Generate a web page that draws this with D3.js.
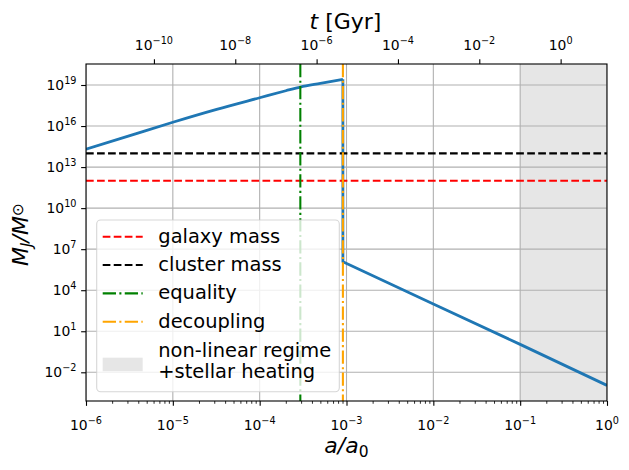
<!DOCTYPE html>
<html><head><meta charset="utf-8">
<script src="https://cdn.jsdelivr.net/npm/d3@7"></script>
<style>body{margin:0;background:#fff}svg{display:block}text{font-family:"DejaVu Sans",sans-serif;fill:#000}</style>
</head><body><svg id="c" width="629" height="470"></svg>
<script>
// ---- data ----
// rising branch (before decoupling)
const aRise  = [1e-6, 3e-6, 1e-5, 3.2e-5, 1e-4, 2e-4, 2.94e-4, 5e-4, 9.09e-4];
const mjRise = [2.0e14, 1.74e15, 1.9e16, 1.66e17, 1.17e18, 3.8e18, 7.1e18, 1.32e19, 2.6e19];
// after decoupling (drop then decline)
const aFall  = [9.09e-4, 9.09e-4, 1e-2, 1e-1, 1];
const mjFall = [2.6e19, 1.2e6, 1.0e3, 1.1e0, 1.1e-3];
const hLineNames  = ["galaxy mass", "cluster mass"];
const hLineValues = [1e12, 1e14];
const vLineNames  = ["equality", "decoupling"];
const vLineValues = [2.94e-4, 9.09e-4];
const spanRange   = [0.1, 1];
const spanName    = ["non-linear regime", "+stellar heating"];
const xTicks   = [1e-6, 1e-5, 1e-4, 1e-3, 1e-2, 1e-1, 1e0];
const xTickExp = ["−6", "−5", "−4", "−3", "−2", "−1", "0"];
const yTicks   = [1e-2, 1e1, 1e4, 1e7, 1e10, 1e13, 1e16, 1e19];
const yTickExp = ["−2", "1", "4", "7", "10", "13", "16", "19"];
const tTicks   = [1e-10, 1e-8, 1e-6, 1e-4, 1e-2, 1e0];
const tTickExp = ["−10", "−8", "−6", "−4", "−2", "0"];

// ---- layout ----
const L = 86, R = 607, T = 64, B = 401;
const svg = d3.select("#c");
const x = d3.scaleLog().domain([1e-6, 1]).range([L, R]);
const y = d3.scaleLog().domain([Math.pow(10, -4.098), Math.pow(10, 20.535)]).range([B, T]);
const tx = d3.scaleLog().domain([Math.pow(10, -11.67), Math.pow(10, 1.14)]).range([L, R]);

svg.append("defs").append("clipPath").attr("id", "clip")
  .append("rect").attr("x", L).attr("y", T).attr("width", R - L).attr("height", B - T);
const plot = svg.append("g").attr("clip-path", "url(#clip)");

// span
plot.append("rect").attr("x", x(spanRange[0])).attr("y", T)
  .attr("width", x(spanRange[1]) - x(spanRange[0])).attr("height", B - T)
  .attr("fill", "gray").attr("fill-opacity", 0.2);

// grid
plot.selectAll(".gx").data(xTicks).join("line")
  .attr("x1", d => x(d)).attr("x2", d => x(d)).attr("y1", T).attr("y2", B)
  .attr("stroke", "#b0b0b0").attr("stroke-width", 1.1);
plot.selectAll(".gy").data(yTicks).join("line")
  .attr("y1", d => y(d)).attr("y2", d => y(d)).attr("x1", L).attr("x2", R)
  .attr("stroke", "#b0b0b0").attr("stroke-width", 1.1);

// main curve
const rise = aRise.map((a, i) => [a, mjRise[i]]);
const fall = aFall.map((a, i) => [a, mjFall[i]]);
plot.append("path").datum(rise)
  .attr("d", d3.line().x(d => x(d[0])).y(d => y(d[1])).curve(d3.curveMonotoneX))
  .attr("fill", "none").attr("stroke", "#1f77b4").attr("stroke-width", 2.78)
  .attr("stroke-linejoin", "round");
plot.append("path").datum(fall)
  .attr("d", d3.line().x(d => x(d[0])).y(d => y(d[1])))
  .attr("fill", "none").attr("stroke", "#1f77b4").attr("stroke-width", 2.78)
  .attr("stroke-linejoin", "round");

// horizontal lines
const hColors = ["red", "black"];
plot.selectAll(".hl").data(hLineValues).join("line")
  .attr("x1", L).attr("x2", R).attr("y1", d => y(d)).attr("y2", d => y(d))
  .attr("stroke", (d, i) => hColors[i]).attr("stroke-width", 2.08)
  .attr("stroke-dasharray", "7.7,3.33");
// vertical lines
const vColors = ["green", "orange"];
plot.selectAll(".vl").data(vLineValues).join("line")
  .attr("x1", d => x(d)).attr("x2", d => x(d)).attr("y1", T).attr("y2", B)
  .attr("stroke", (d, i) => vColors[i]).attr("stroke-width", 2.08)
  .attr("stroke-dasharray", "13.3,3.33,2.08,3.33");

// spines
svg.append("rect").attr("x", L).attr("y", T).attr("width", R - L).attr("height", B - T)
  .attr("fill", "none").attr("stroke", "#000").attr("stroke-width", 1.1);

// axes ticks
function supLabel(g, xx, yy, exp, anchor) {
  const t = g.append("text").attr("x", xx).attr("y", yy).attr("text-anchor", anchor)
    .attr("font-size", "13.9px");
  t.append("tspan").text("10");
  t.append("tspan").attr("dy", -6).attr("font-size", "9.7px").text(exp);
  return t;
}
svg.append("g").attr("transform", `translate(0,${B})`)
  .call(d3.axisBottom(x).tickValues(xTicks).tickSize(4.86).tickFormat(""));
const minors = [];
for (let e = -6; e < 0; e++) for (let k = 2; k <= 9; k++) minors.push(k * Math.pow(10, e));
svg.append("g").attr("transform", `translate(0,${B})`)
  .call(d3.axisBottom(x).tickValues(minors).tickSize(2.78).tickFormat(""))
  .call(g => g.selectAll("line").attr("stroke-width", 0.83));
svg.append("g").attr("transform", `translate(${L},0)`)
  .call(d3.axisLeft(y).tickValues(yTicks).tickSize(4.86).tickFormat(""));
svg.append("g").attr("transform", `translate(0,${T})`)
  .call(d3.axisTop(tx).tickValues(tTicks).tickSize(4.86).tickFormat(""));
svg.selectAll(".domain").remove();
svg.selectAll(".tick line").filter(function(){return !this.getAttribute("stroke-width");}).attr("stroke-width", 1.1);

const lab = svg.append("g");
xTicks.forEach((v, i) => supLabel(lab, x(v), 429.5, xTickExp[i], "middle"));
yTicks.forEach((v, i) => supLabel(lab, 76.5, y(v) + 5, yTickExp[i], "end"));
tTicks.forEach((v, i) => supLabel(lab, tx(v), 50, tTickExp[i], "middle"));

// axis titles
const xt = svg.append("text").attr("x", 346.4).attr("y", 453.3).attr("text-anchor", "middle").attr("font-size", "22px");
xt.append("tspan").attr("font-style", "italic").text("a/a");
xt.append("tspan").attr("dy", 4).attr("font-size", "15.5px").text("0");
const tt = svg.append("text").attr("x", 345.5).attr("y", 28.5).attr("text-anchor", "middle").attr("font-size", "22px");
tt.append("tspan").attr("font-style", "italic").text("t");
tt.append("tspan").text(" [Gyr]");
const yt = svg.append("text").attr("transform", "translate(27.5,234.5) rotate(-90)")
  .attr("text-anchor", "middle").attr("font-size", "22px");
yt.append("tspan").attr("font-style", "italic").text("M");
yt.append("tspan").attr("font-style", "italic").attr("dy", 4).attr("font-size", "15.5px").text("J");
yt.append("tspan").attr("font-style", "italic").attr("dy", -4).text("/M");
yt.append("tspan").attr("dy", -5).attr("font-size", "15.5px").text("⊙");

// legend
const lg = svg.append("g");
lg.append("rect").attr("x", 96.7).attr("y", 220).attr("width", 242.6).attr("height", 171.7)
  .attr("rx", 4).attr("fill", "#fff").attr("fill-opacity", 0.8)
  .attr("stroke", "#cccccc").attr("stroke-opacity", 0.8).attr("stroke-width", 1.1);
const lgNames = hLineNames.concat(vLineNames);
const lgColors = hColors.concat(vColors);
const lgDash = ["7.7,3.33", "7.7,3.33", "13.3,3.33,2.08,3.33", "13.3,3.33,2.08,3.33"];
lgNames.forEach((n, i) => {
  const by = 242.7 + i * 28.33;
  lg.append("line").attr("x1", 102.7).attr("x2", 142.7).attr("y1", by - 6).attr("y2", by - 6)
    .attr("stroke", lgColors[i]).attr("stroke-width", 2.08).attr("stroke-dasharray", lgDash[i]);
  lg.append("text").attr("x", 158.3).attr("y", by).attr("font-size", "19.44px").text(n);
});
lg.append("rect").attr("x", 102.7).attr("y", 357.7).attr("width", 40).attr("height", 13.5)
  .attr("fill", "gray").attr("fill-opacity", 0.2);
spanName.forEach((n, i) => {
  lg.append("text").attr("x", 158.3).attr("y", 356.7 + i * 21.6).attr("font-size", "19.44px").text(n);
});
</script></body></html>
